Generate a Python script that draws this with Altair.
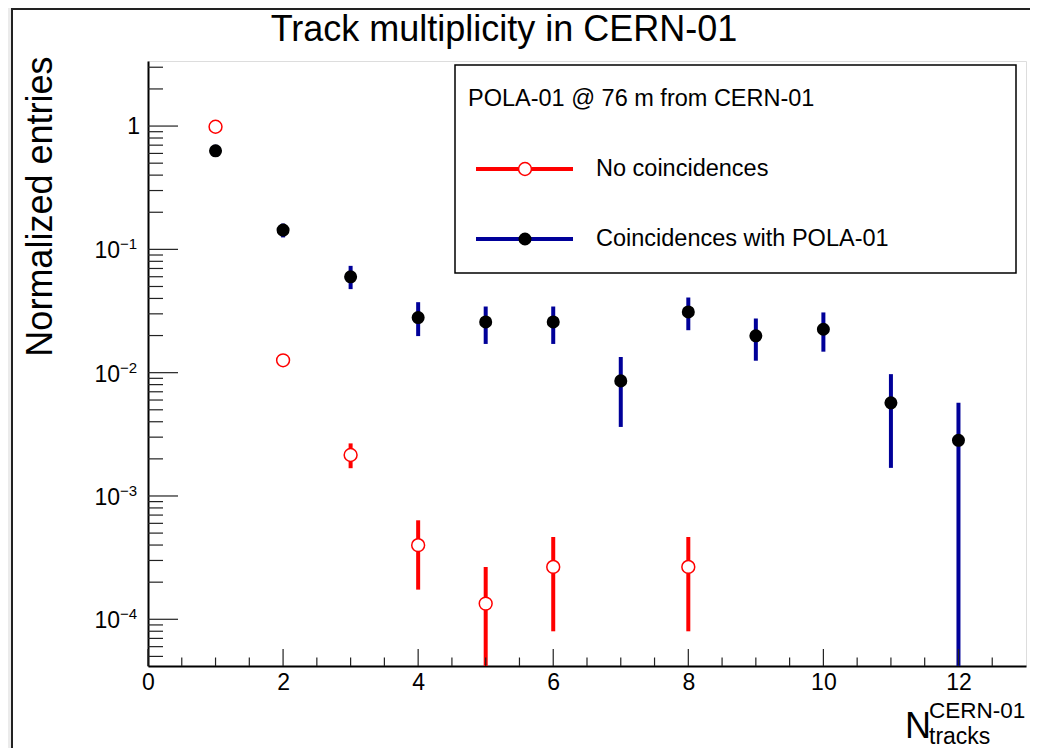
import altair as alt
import pandas as pd

# ---------------- data ----------------
title_text = "Track multiplicity in CERN-01"
y_title = "Normalized entries"
legend_header = "POLA-01 @ 76 m from CERN-01"
series_names = ["No coincidences", "Coincidences with POLA-01"]

# No coincidences (red, open markers)
nc_x = [1, 2, 3, 4, 5, 6, 8]
nc_y = [0.987, 0.0126, 0.00215, 3.99e-4, 1.34e-4, 2.66e-4, 2.66e-4]
nc_lo = [0.92, 0.0117, 0.00168, 1.74e-4, 2.0e-6, 7.99e-5, 7.99e-5]
nc_hi = [1.06, 0.0135, 0.00267, 6.35e-4, 2.66e-4, 4.65e-4, 4.65e-4]

# Coincidences with POLA-01 (blue bars, black markers)
co_x = [1, 2, 3, 4, 5, 6, 7, 8, 9, 10, 11, 12]
co_y = [0.630, 0.1433, 0.0599, 0.0280, 0.0258, 0.0258, 0.00858, 0.0311, 0.0199, 0.0225, 0.00569, 0.00283]
co_lo = [0.565, 0.125, 0.0476, 0.0198, 0.0171, 0.0171, 0.00363, 0.0221, 0.0125, 0.0148, 0.00169, 1.0e-6]
co_hi = [0.705, 0.162, 0.0735, 0.0373, 0.0344, 0.0344, 0.0134, 0.0407, 0.0275, 0.0308, 0.00973, 0.00569]

# axis ticks / labels
x_label_vals = [0, 2, 4, 6, 8, 10, 12]
x_major = [0, 2, 4, 6, 8, 10, 12]
x_minor = [0.5, 1, 1.5, 2.5, 3, 3.5, 4.5, 5, 5.5, 6.5, 7, 7.5, 8.5, 9, 9.5, 10.5, 11, 11.5, 12.5]
y_major = [1e-4, 1e-3, 1e-2, 1e-1, 1]
y_minor = [5e-5, 6e-5, 7e-5, 8e-5, 9e-5,
           2e-4, 3e-4, 4e-4, 5e-4, 6e-4, 7e-4, 8e-4, 9e-4,
           2e-3, 3e-3, 4e-3, 5e-3, 6e-3, 7e-3, 8e-3, 9e-3,
           2e-2, 3e-2, 4e-2, 5e-2, 6e-2, 7e-2, 8e-2, 9e-2,
           0.2, 0.3, 0.4, 0.5, 0.6, 0.7, 0.8, 0.9, 2, 3]
y_dec_vals = [1e-1, 1e-2, 1e-3, 1e-4]
y_dec_base = ["10", "10", "10", "10"]
y_dec_exp = ["\u22121", "\u22122", "\u22123", "\u22124"]
y_unit_val = [1]
y_unit_text = ["1"]

# ---------------- chart ----------------
FONT = "Liberation Sans"
W, H = 878, 605
RED = "#ff0000"
BLUE = "#000099"

xs = alt.Scale(domain=[0, 13], nice=False, zero=False)
ys = alt.Scale(type="log", domain=[4.18e-5, 3.37], nice=False)

one = pd.DataFrame({"k": [0]})
nc = pd.DataFrame({"x": nc_x, "y": nc_y, "lo": nc_lo, "hi": nc_hi})
co = pd.DataFrame({"x": co_x, "y": co_y, "lo": co_lo, "hi": co_hi})

x_axis = alt.Axis(values=x_label_vals, labelFontSize=23, labelColor="black", labelPadding=5,
                  labelFont=FONT, labelFlush=False, labelOverlap=False, ticks=False,
                  domainColor="black", domainWidth=2, grid=False,
                  title=" ", titleFontSize=1)
y_axis = alt.Axis(labels=False, ticks=False, domainColor="black", domainWidth=2, grid=False,
                  title=y_title, titleFontSize=36, titleFontWeight="normal", titleColor="black",
                  titleFont=FONT, titleAngle=270, titleX=-108, titleY=-5, titleAlign="right",
                  titleBaseline="middle")


def X(field):
    return alt.X(field, scale=xs, axis=x_axis)


def Y(field):
    return alt.Y(field, scale=ys, axis=y_axis)


co_err = alt.Chart(co).mark_rule(color=BLUE, strokeWidth=4, clip=True).encode(
    x=X("x:Q"), y=Y("lo:Q"), y2="hi:Q")
co_pts = alt.Chart(co).mark_circle(color="black", size=170, opacity=1).encode(
    x=X("x:Q"), y=Y("y:Q"))
nc_err = alt.Chart(nc).mark_rule(color=RED, strokeWidth=4, clip=True).encode(
    x=X("x:Q"), y=Y("lo:Q"), y2="hi:Q")
nc_pts = alt.Chart(nc).mark_point(shape="circle", filled=True, fill="white", stroke=RED,
                                  strokeWidth=1.5, size=165, opacity=1, fillOpacity=1).encode(
    x=X("x:Q"), y=Y("y:Q"))

# inward ticks
ymaj = alt.Chart(pd.DataFrame({"y": y_major})).mark_rule(
    color="#222", strokeWidth=1.2).encode(y=Y("y:Q"), x=alt.value(0), x2=alt.value(30))
ymin = alt.Chart(pd.DataFrame({"y": y_minor})).mark_rule(color="#222", strokeWidth=1.2).encode(
    y=Y("y:Q"), x=alt.value(0), x2=alt.value(15))
xmaj = alt.Chart(pd.DataFrame({"x": x_major})).mark_rule(color="#222", strokeWidth=1.2).encode(
    x=X("x:Q"), y=alt.value(H), y2=alt.value(H - 17))
xmin = alt.Chart(pd.DataFrame({"x": x_minor})).mark_rule(color="#222", strokeWidth=1.2).encode(
    x=X("x:Q"), y=alt.value(H), y2=alt.value(H - 8.5))

# y tick labels 10^n
ylab_base = alt.Chart(pd.DataFrame({"y": y_dec_vals, "t": y_dec_base})).mark_text(
    align="right", baseline="middle", fontSize=23, font=FONT, dy=2, color="black").encode(
    y=Y("y:Q"), x=alt.value(-28), text="t:N")
ylab_exp = alt.Chart(pd.DataFrame({"y": y_dec_vals, "t": y_dec_exp})).mark_text(
    align="left", baseline="middle", fontSize=15, font=FONT, dy=-5, color="black").encode(
    y=Y("y:Q"), x=alt.value(-28), text="t:N")
ylab_unit = alt.Chart(pd.DataFrame({"y": y_unit_val, "t": y_unit_text})).mark_text(
    align="right", baseline="middle", fontSize=23, font=FONT, dy=1, color="black").encode(
    y=Y("y:Q"), x=alt.value(-8), text="t:N")

# canvas border
canvas_strip = alt.Chart(one).mark_rect(fill="#ebebeb").encode(
    x=alt.value(-140), x2=alt.value(-137), y=alt.value(-53), y2=alt.value(H + 90))
canvas_left = alt.Chart(one).mark_rule(color="#222", strokeWidth=2).encode(
    x=alt.value(-136), y=alt.value(-53), y2=alt.value(H + 90))
canvas_top = alt.Chart(one).mark_rule(color="#222", strokeWidth=2).encode(
    x=alt.value(-136), x2=alt.value(W + 20), y=alt.value(-52))

# title
title = alt.Chart(one).mark_text(text=title_text, fontSize=36, font=FONT, align="center",
                                 baseline="alphabetic", color="black").encode(
    x=alt.value(356), y=alt.value(-20))

# x-axis title N^{CERN-01}_{tracks}
xt_n = alt.Chart(one).mark_text(text="N", fontSize=36, font=FONT, align="left",
                                baseline="alphabetic", color="black").encode(
    x=alt.value(757), y=alt.value(677))
xt_sup = alt.Chart(one).mark_text(text="CERN-01", fontSize=22.5, font=FONT, align="left",
                                  baseline="alphabetic", color="black").encode(
    x=alt.value(781), y=alt.value(657))
xt_sub = alt.Chart(one).mark_text(text="tracks", fontSize=23, font=FONT, align="left",
                                  baseline="alphabetic", color="black").encode(
    x=alt.value(781), y=alt.value(683))

# legend
leg_box = alt.Chart(one).mark_rect(fill="white", stroke="black", strokeWidth=1.5).encode(
    x=alt.value(307), x2=alt.value(868), y=alt.value(4), y2=alt.value(212))
leg_head = alt.Chart(one).mark_text(text=legend_header, fontSize=23.5, font=FONT, align="left",
                                    baseline="middle", color="black").encode(
    x=alt.value(320), y=alt.value(38))
leg_r_line = alt.Chart(one).mark_rule(color=RED, strokeWidth=4).encode(
    x=alt.value(328), x2=alt.value(425), y=alt.value(108))
leg_r_pt = alt.Chart(one).mark_point(shape="circle", filled=True, fill="white", stroke=RED,
                                     strokeWidth=1.5, size=165, opacity=1).encode(
    x=alt.value(377), y=alt.value(108))
leg_r_txt = alt.Chart(one).mark_text(text=series_names[0], fontSize=23.5, font=FONT, align="left",
                                     baseline="middle", color="black").encode(
    x=alt.value(448), y=alt.value(108))
leg_b_line = alt.Chart(one).mark_rule(color=BLUE, strokeWidth=4).encode(
    x=alt.value(328), x2=alt.value(425), y=alt.value(178))
leg_b_pt = alt.Chart(one).mark_circle(color="black", size=170, opacity=1).encode(
    x=alt.value(377), y=alt.value(178))
leg_b_txt = alt.Chart(one).mark_text(text=series_names[1], fontSize=23.5, font=FONT, align="left",
                                     baseline="middle", color="black").encode(
    x=alt.value(448), y=alt.value(178))

chart = alt.layer(
    canvas_strip, canvas_left, canvas_top,
    co_err, co_pts, nc_err, nc_pts,
    ymaj, ymin, xmaj, xmin,
    ylab_base, ylab_exp, ylab_unit,
    title, xt_n, xt_sup, xt_sub,
    leg_box, leg_head, leg_r_line, leg_r_pt, leg_r_txt, leg_b_line, leg_b_pt, leg_b_txt,
).properties(
    width=W, height=H,
    padding={"left": 140, "top": 53, "right": 4, "bottom": 82},
    autosize=alt.AutoSizeParams(type="none"),
    background="white",
).configure_view(stroke="#555", strokeWidth=1.5).configure(font=FONT)

chart.save("out.html", embed_options={"renderer": "svg", "actions": False})
